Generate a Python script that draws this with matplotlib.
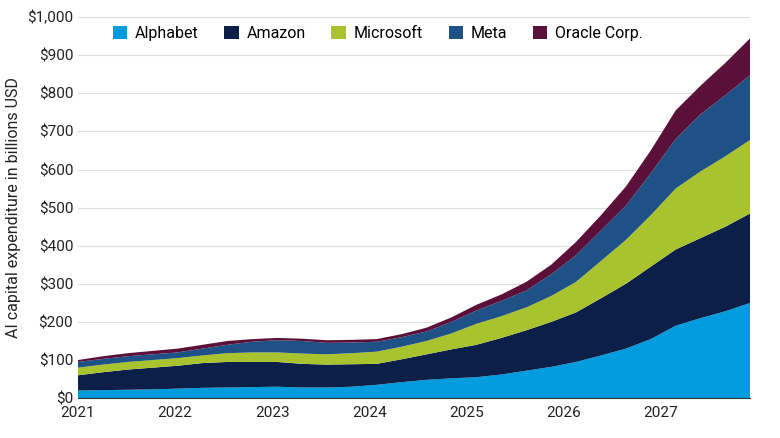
import matplotlib
matplotlib.use("Agg")
import matplotlib.pyplot as plt
import numpy as np

plt.rcParams['font.family'] = ['Roboto', 'DejaVu Sans']

series = ["Alphabet", "Amazon", "Microsoft", "Meta", "Oracle Corp."]
colors = ["#009CDE", "#0B1F48", "#A9C32E", "#1E5185", "#5A1038"]
# cumulative (stacked) totals per quarter, 2021Q1..2027Q4
alphabet_cum = [20,21,22,23, 25,27,28,29, 30,28,28,30, 35,42,48,52, 55,62,72,82, 95,112,130,155, 190,210,228,250]
amazon_cum = [60,68,75,80, 85,92,95,95, 95,90,88,89, 90,102,115,128, 140,158,178,200, 225,262,300,345, 390,420,450,485]
microsoft_cum = [80,88,95,100, 105,112,118,120, 120,117,115,118, 122,135,150,170, 195,215,238,268, 305,360,415,480, 550,595,635,678]
meta_cum = [95,103,110,115, 120,130,140,148, 152,150,145,146, 148,160,175,200, 230,255,282,325, 375,440,505,590, 680,745,795,848]
oracle_cum = [100,110,118,124, 130,140,150,155, 158,156,152,153, 155,168,185,212, 245,272,305,350, 410,480,555,650, 755,820,880,945]

cums = np.array([alphabet_cum, amazon_cum, microsoft_cum, meta_cum, oracle_cum], dtype=float)
vals = np.diff(np.vstack([np.zeros(cums.shape[1]), cums]), axis=0)
x = np.linspace(2021, 2027.92, cums.shape[1])

fig = plt.figure(figsize=(7.8, 4.38), dpi=100)
ax = fig.add_axes([0.1, 0.091, 0.862, 0.87])
ax.stackplot(x, vals, colors=colors, labels=series, linewidth=0)
ax.set_xlim(2021, 2027.92)
ax.set_ylim(0, 1000)
ax.set_yticks(range(0, 1001, 100))
ax.set_yticklabels([f"${v:,}" for v in range(0, 1001, 100)])
ax.set_xticks(range(2021, 2028))
ax.tick_params(length=0, labelsize=11, colors="#222222")
ax.tick_params(axis='x', pad=6)
ax.grid(axis='y', color="#dddddd", linewidth=0.8)
ax.set_axisbelow(True)
for s in ["top", "right", "left"]:
    ax.spines[s].set_visible(False)
ax.spines["bottom"].set_color("#333333")
ax.set_ylabel("AI capital expenditure in billions USD", fontsize=11.5, color="#222222")
ax.legend(loc="upper left", bbox_to_anchor=(0.03, 1.015), ncol=5, frameon=False,
          fontsize=11.5, handlelength=0.9, handleheight=0.9, columnspacing=1.6,
          handletextpad=0.5)
fig.savefig("out.png", dpi=100)
